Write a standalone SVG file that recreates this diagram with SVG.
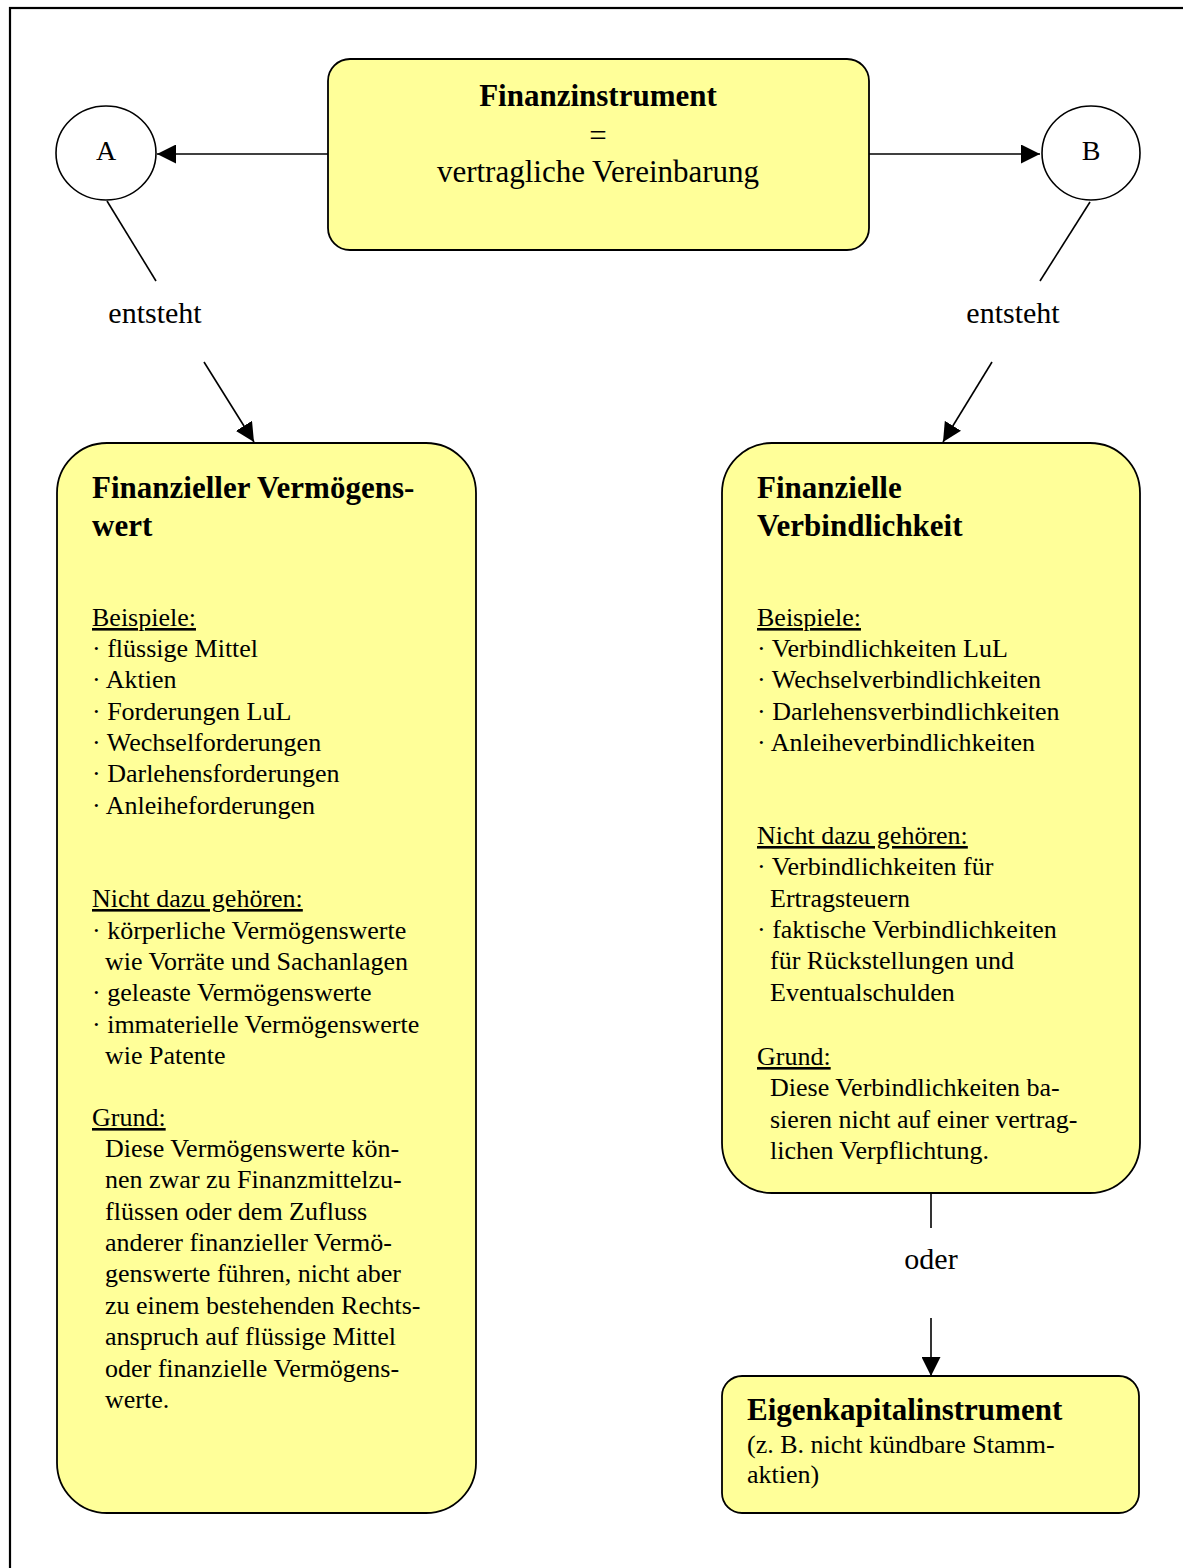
<svg xmlns="http://www.w3.org/2000/svg" width="1183" height="1568" viewBox="0 0 1183 1568">
<defs>
<style>
text{font-family:"Liberation Serif","Times New Roman",serif;fill:#000}
.box{fill:#FFFF99;stroke:#000;stroke-width:1.8}
.circ{fill:#fff;stroke:#000;stroke-width:1.6}
.ln{stroke:#000;stroke-width:1.6;fill:none}
.ttl{font-size:31px;font-weight:bold}
.top{font-size:31px}
.lbl{font-size:30px}
.t{font-size:26px}
.ab{font-size:28px}
.u{text-decoration:underline}
.mid{text-anchor:middle}
</style>
<marker id="ah" viewBox="0 0 10 10" refX="10" refY="5" markerWidth="19" markerHeight="19" markerUnits="userSpaceOnUse" orient="auto">
<path d="M0,0 L10,5 L0,10 z" fill="#000"/>
</marker>
</defs>
<rect x="0" y="0" width="1183" height="1568" fill="#fff"/>
<rect x="10" y="8" width="1200" height="1600" fill="none" stroke="#000" stroke-width="2.2"/>

<g id="connectors">
<line class="ln" x1="328" y1="154" x2="157" y2="154" marker-end="url(#ah)"/>
<line class="ln" x1="869" y1="154" x2="1040" y2="154" marker-end="url(#ah)"/>
<line class="ln" x1="107" y1="201" x2="156" y2="281"/>
<text class="lbl mid" x="155" y="323">entsteht</text>
<line class="ln" x1="204" y1="362" x2="254" y2="442" marker-end="url(#ah)"/>
<line class="ln" x1="1090" y1="202" x2="1040" y2="281"/>
<text class="lbl mid" x="1013" y="323">entsteht</text>
<line class="ln" x1="992" y1="362" x2="943" y2="442" marker-end="url(#ah)"/>
<line class="ln" x1="931" y1="1194" x2="931" y2="1228"/>
<text class="lbl mid" x="931" y="1269">oder</text>
<line class="ln" x1="931" y1="1318" x2="931" y2="1376" marker-end="url(#ah)"/>
</g>

<g id="node-finanzinstrument">
<rect class="box" x="328" y="59" width="541" height="191" rx="22" ry="22"/>
<text class="ttl mid" x="598" y="106">Finanzinstrument</text>
<text class="top mid" x="598" y="146">=</text>
<text class="top mid" x="598" y="182">vertragliche Vereinbarung</text>
</g>

<g id="node-A">
<ellipse class="circ" cx="106" cy="153" rx="50" ry="47"/>
<text class="ab mid" x="106" y="160">A</text>
</g>

<g id="node-B">
<ellipse class="circ" cx="1091" cy="153" rx="49" ry="47"/>
<text class="ab mid" x="1091" y="160">B</text>
</g>

<g id="node-vermoegenswert">
<rect class="box" x="57" y="443" width="419" height="1070" rx="50" ry="50"/>
<text class="ttl" x="92" y="498">Finanzieller Vermögens-</text>
<text class="ttl" x="92" y="536">wert</text>
<text class="t u" x="92" y="626">Beispiele:</text>
<text class="t" x="92" y="657">· flüssige Mittel</text>
<text class="t" x="92" y="688">· Aktien</text>
<text class="t" x="92" y="720">· Forderungen LuL</text>
<text class="t" x="92" y="751">· Wechselforderungen</text>
<text class="t" x="92" y="782">· Darlehensforderungen</text>
<text class="t" x="92" y="814">· Anleiheforderungen</text>
<text class="t u" x="92" y="907">Nicht dazu gehören:</text>
<text class="t" x="92" y="939">· körperliche Vermögenswerte</text>
<text class="t" x="105" y="970">wie Vorräte und Sachanlagen</text>
<text class="t" x="92" y="1001">· geleaste Vermögenswerte</text>
<text class="t" x="92" y="1033">· immaterielle Vermögenswerte</text>
<text class="t" x="105" y="1064">wie Patente</text>
<text class="t u" x="92" y="1126">Grund:</text>
<text class="t" x="105" y="1157">Diese Vermögenswerte kön-</text>
<text class="t" x="105" y="1188">nen zwar zu Finanzmittelzu-</text>
<text class="t" x="105" y="1220">flüssen oder dem Zufluss</text>
<text class="t" x="105" y="1251">anderer finanzieller Vermö-</text>
<text class="t" x="105" y="1282">genswerte führen, nicht aber</text>
<text class="t" x="105" y="1314">zu einem bestehenden Rechts-</text>
<text class="t" x="105" y="1345">anspruch auf flüssige Mittel</text>
<text class="t" x="105" y="1377">oder finanzielle Vermögens-</text>
<text class="t" x="105" y="1408">werte.</text>
</g>

<g id="node-verbindlichkeit">
<rect class="box" x="722" y="443" width="418" height="750" rx="50" ry="50"/>
<text class="ttl" x="757" y="498">Finanzielle</text>
<text class="ttl" x="757" y="536">Verbindlichkeit</text>
<text class="t u" x="757" y="626">Beispiele:</text>
<text class="t" x="757" y="657">· Verbindlichkeiten LuL</text>
<text class="t" x="757" y="688">· Wechselverbindlichkeiten</text>
<text class="t" x="757" y="720">· Darlehensverbindlichkeiten</text>
<text class="t" x="757" y="751">· Anleiheverbindlichkeiten</text>
<text class="t u" x="757" y="844">Nicht dazu gehören:</text>
<text class="t" x="757" y="875">· Verbindlichkeiten für</text>
<text class="t" x="770" y="907">Ertragsteuern</text>
<text class="t" x="757" y="938">· faktische Verbindlichkeiten</text>
<text class="t" x="770" y="969">für Rückstellungen und</text>
<text class="t" x="770" y="1001">Eventualschulden</text>
<text class="t u" x="757" y="1065">Grund:</text>
<text class="t" x="770" y="1096">Diese Verbindlichkeiten ba-</text>
<text class="t" x="770" y="1128">sieren nicht auf einer vertrag-</text>
<text class="t" x="770" y="1159">lichen Verpflichtung.</text>
</g>

<g id="node-eigenkapital">
<rect class="box" x="722" y="1376" width="417" height="137" rx="20" ry="20"/>
<text class="ttl" x="747" y="1420">Eigenkapitalinstrument</text>
<text class="t" x="747" y="1453">(z. B. nicht kündbare Stamm-</text>
<text class="t" x="747" y="1483">aktien)</text>
</g>
</svg>
